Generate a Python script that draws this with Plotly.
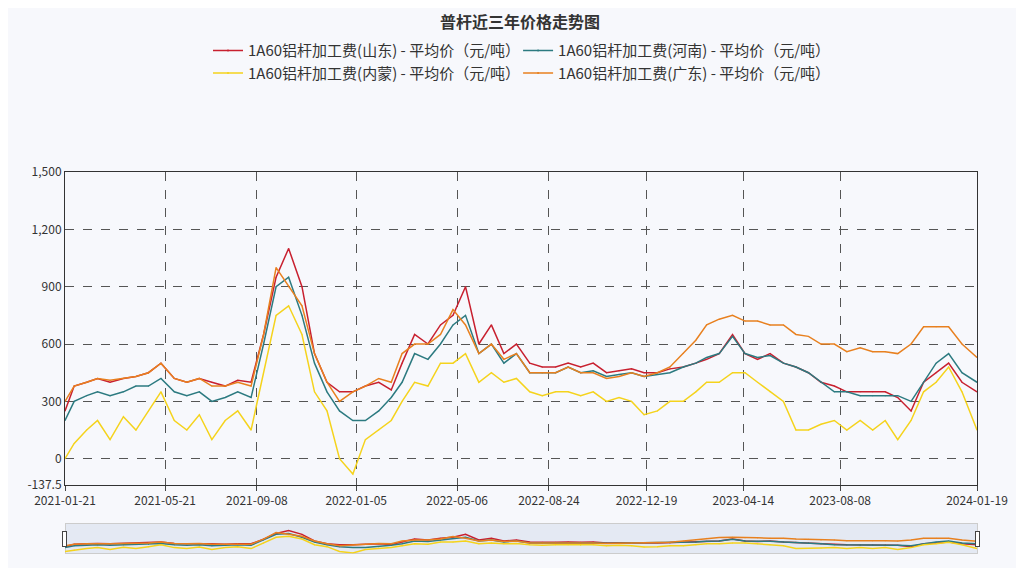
import plotly.graph_objects as go

dates = ["2021-01-21"]
for y in (2021, 2022, 2023):
    for m in range(1, 13):
        if y == 2021 and m == 1:
            continue
        dates += [f"{y}-{m:02d}-01", f"{y}-{m:02d}-16"]
dates += ["2024-01-01", "2024-01-19"]

shandong = [250,380,400,420,400,420,430,450,500,420,400,420,400,380,410,400,650,950,1100,900,550,400,350,
            350,380,400,360,500,650,600,700,750,900,600,700,550,600,500,480,480,500,480,500,450,460,470,450,
            450,470,480,500,520,550,650,550,520,550,500,480,450,400,380,350,350,350,350,320,250,400,450,500,400,350]
henan = [200,300,330,350,330,350,380,380,420,350,330,350,300,320,350,320,600,900,950,750,500,350,250,
         200,200,250,320,400,550,520,600,700,750,550,600,500,550,450,450,450,480,450,460,430,440,450,430,
         440,450,480,500,530,550,640,550,530,540,500,480,450,400,350,350,330,330,330,330,300,400,500,550,450,400]
neimeng = [0,80,150,200,100,220,150,250,350,200,150,230,100,200,250,150,450,750,800,650,350,250,0,
           -80,100,150,200,300,400,380,500,500,550,400,450,400,420,350,330,350,350,330,350,300,320,300,230,
           250,300,300,350,400,400,450,450,400,350,300,150,150,180,200,150,200,150,200,100,200,350,400,480,350,150]
guangdong = [300,380,400,420,410,420,430,450,500,420,400,420,380,380,400,380,650,1000,900,800,550,400,300,
             350,380,420,400,550,600,600,650,780,700,550,600,520,550,450,450,450,480,450,450,420,430,450,430,
             450,480,550,620,700,730,750,720,720,700,700,650,640,600,600,560,580,560,560,550,600,690,690,690,600,530]

names = ["1A60铝杆加工费(山东) - 平均价（元/吨）", "1A60铝杆加工费(河南) - 平均价（元/吨）",
         "1A60铝杆加工费(内蒙) - 平均价（元/吨）", "1A60铝杆加工费(广东) - 平均价（元/吨）"]
series = [shandong, henan, neimeng, guangdong]
colors = ["#c8202f", "#2c7a80", "#f5d31c", "#e8801f"]
tickdates = ["2021-01-21","2021-05-21","2021-09-08","2022-01-05","2022-05-06","2022-08-24",
             "2022-12-19","2023-04-14","2023-08-08","2024-01-19"]
yticks = [-137.5, 0, 300, 600, 900, 1200, 1500]

fig = go.Figure()
for n, s, c in zip(names, series, colors):
    fig.add_trace(go.Scatter(x=dates, y=s, name=n, mode="lines+markers",
                             marker=dict(size=1, color=c), line=dict(color=c, width=1.5)))

fig.update_layout(
    width=1024, height=568, plot_bgcolor="#f7f8fc", paper_bgcolor="#f7f8fc",
    font=dict(family="Noto Sans CJK SC", size=12, color="#333"),
    title=dict(text="<b>普杆近三年价格走势图</b>", x=0.5, y=0.985, yanchor="top", xanchor="center", font=dict(size=16)),
    legend=dict(orientation="h", x=0.5, xanchor="center", y=1.44, yanchor="top",
                entrywidth=0.34, entrywidthmode="fraction", font=dict(size=15)),
    margin=dict(l=57, r=55, t=164, b=22),
    xaxis=dict(type="date", range=["2021-01-21", "2024-01-19"], tickvals=tickdates, ticktext=tickdates,
               showgrid=True, gridcolor="#555", griddash="dash", gridwidth=1,
               showline=True, linecolor="#333", mirror=True, ticks="outside",
               rangeslider=dict(visible=True, thickness=0.08, range=["2021-01-21", "2024-01-19"],
                                bgcolor="#e4e9f3", bordercolor="#ccc", borderwidth=1)),
    yaxis=dict(range=[-137.5, 1500], tickvals=yticks, ticktext=["-137.5","0","300","600","900","1,200","1,500"],
               showgrid=True, gridcolor="#555", griddash="dash", gridwidth=1, zeroline=False,
               showline=True, linecolor="#333", mirror=True),
)
fig.write_html("out.html")
